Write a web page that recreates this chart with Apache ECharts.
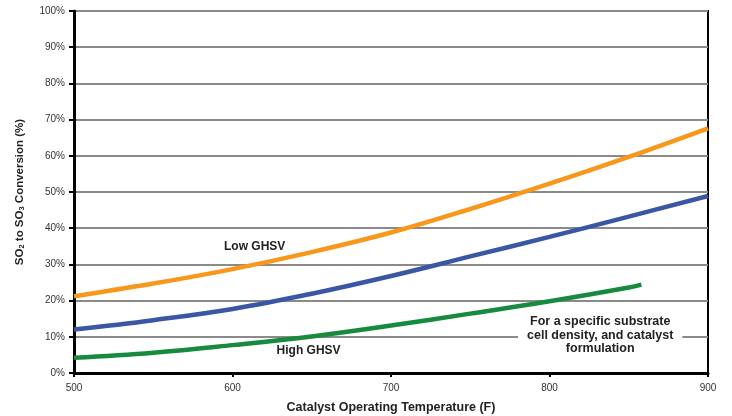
<!DOCTYPE html>
<html>
<head>
<meta charset="utf-8">
<script src="https://cdn.jsdelivr.net/npm/echarts@6/dist/echarts.min.js"></script>
<style>
  html, body { margin: 0; padding: 0; background: #fff; }
  #chart { width: 732px; height: 416px; }
</style>
</head>
<body>
<div id="chart"></div>
<script>
// Catalyst temperature (F) sample points
var temperature = [500, 550, 600, 650, 700, 750, 800, 850, 900];
var highTemperature = [500, 550, 600, 650, 700, 750, 800, 850, 858];

// SO2 -> SO3 conversion (%)
var lowGhsv  = [21.2, 24.7, 28.7, 33.4, 38.8, 45.3, 52.3, 59.7, 67.6];
var midGhsv  = [12.0, 14.6, 17.7, 21.9, 26.8, 32.2, 37.6, 43.2, 48.9];
var highGhsv = [4.2, 5.6, 7.7, 10.1, 13.1, 16.4, 19.8, 23.6, 24.4];

var yTicks = [0, 10, 20, 30, 40, 50, 60, 70, 80, 90, 100];
var xTicks = [500, 600, 700, 800, 900];

// Annotation anchors in data space: [temperature, conversion]
var lowLabelAt = [614, 34.8];
var highLabelAt = [648, 6.1];
var noteAt = [832, 10.4];
var noteLines = ['For a specific substrate', 'cell density, and catalyst', 'formulation'];

function pairs(xs, ys) {
  return xs.map(function (x, i) { return [x, ys[i]]; });
}

var font = '"Liberation Sans", Arial, sans-serif';
var chart = echarts.init(document.getElementById('chart'));

chart.setOption({
  animation: false,
  backgroundColor: '#fff',
  grid: {
    left: 74, right: 24, top: 11, bottom: 43,
    outerBoundsMode: 'none',
    show: true, borderColor: '#000', borderWidth: 2, backgroundColor: 'transparent'
  },
  xAxis: {
    type: 'value',
    min: xTicks[0], max: xTicks[xTicks.length - 1], interval: 100,
    name: 'Catalyst Operating Temperature (F)',
    nameLocation: 'middle', nameGap: 28, nameMoveOverlap: false,
    nameTextStyle: { fontFamily: font, fontWeight: 'bold', fontSize: 12.5, color: '#222' },
    axisLine: { show: true, onZero: false, lineStyle: { color: '#000', width: 3 } },
    axisTick: { show: true, length: 4, lineStyle: { color: '#000', width: 2 } },
    axisLabel: { margin: 10, fontFamily: font, fontSize: 10, color: '#333' },
    splitLine: { show: false }
  },
  yAxis: {
    type: 'value',
    min: yTicks[0], max: yTicks[yTicks.length - 1], interval: 10,
    name: 'SO{sub|2} to SO{sub|3} Conversion (%)',
    nameLocation: 'middle', nameGap: 48, nameRotate: 90, nameMoveOverlap: false,
    nameTextStyle: {
      fontFamily: font, fontWeight: 'bold', fontSize: 11.5, color: '#222',
      rich: {
        sub: { fontFamily: font, fontWeight: 'bold', fontSize: 7.5, color: '#222', verticalAlign: 'bottom', padding: [5, 0, 0, 0] }
      }
    },
    axisLine: { show: true, onZero: false, lineStyle: { color: '#000', width: 3 } },
    axisTick: { show: true, length: 5, lineStyle: { color: '#000', width: 2 } },
    axisLabel: { margin: 9, fontFamily: font, fontSize: 10, color: '#333', formatter: '{value}%' },
    splitLine: { show: true, lineStyle: { color: '#8a8a8a', width: 2 } }
  },
  series: [
    {
      name: 'Low GHSV', type: 'line', smooth: 0.4, showSymbol: false, z: 3,
      data: pairs(temperature, lowGhsv),
      lineStyle: { color: '#F7981D', width: 4.5 }
    },
    {
      name: 'Mid GHSV', type: 'line', smooth: 0.4, showSymbol: false, z: 3,
      data: pairs(temperature, midGhsv),
      lineStyle: { color: '#3A56A5', width: 4.5 }
    },
    {
      name: 'High GHSV', type: 'line', smooth: 0.4, showSymbol: false, z: 3,
      data: pairs(highTemperature, highGhsv),
      lineStyle: { color: '#188A3E', width: 4.5 }
    }
  ]
});

// Text annotations placed through the grid's coordinate system
function at(p) { return chart.convertToPixel({ gridIndex: 0 }, p); }
var pLow = at(lowLabelAt), pHigh = at(highLabelAt), pNote = at(noteAt);
var labelStyle = { fontFamily: font, fontWeight: 'bold', fontSize: 12, fill: '#222', align: 'center', verticalAlign: 'middle' };

chart.setOption({
  graphic: [
    { type: 'text', x: pLow[0], y: pLow[1], z: 10, style: Object.assign({ text: 'Low GHSV' }, labelStyle) },
    { type: 'text', x: pHigh[0], y: pHigh[1], z: 10, style: Object.assign({ text: 'High GHSV' }, labelStyle) },
    {
      type: 'text', x: pNote[0], y: pNote[1], z: 10,
      style: Object.assign({}, labelStyle, {
        text: noteLines.join('\n'), fontSize: 12.5, lineHeight: 13.5,
        backgroundColor: '#fff', padding: [1, 9, 1, 9]
      })
    }
  ]
});
</script>
</body>
</html>
